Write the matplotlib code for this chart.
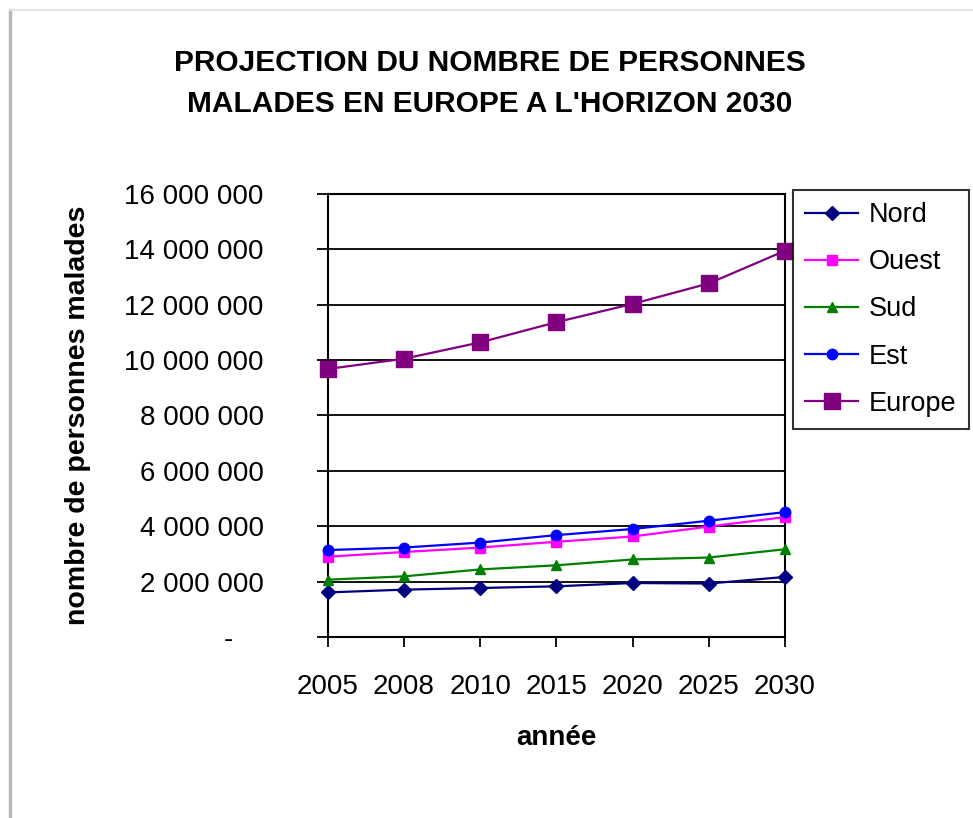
import matplotlib
matplotlib.use("Agg")
import matplotlib.pyplot as plt
from matplotlib.lines import Line2D
from matplotlib.ticker import FuncFormatter

plt.rcParams['font.family'] = ['Liberation Sans', 'DejaVu Sans']

years = ["2005", "2008", "2010", "2015", "2020", "2025", "2030"]
nord = [1610000, 1710000, 1770000, 1830000, 1950000, 1930000, 2170000]
ouest = [2900000, 3070000, 3230000, 3440000, 3630000, 3990000, 4330000]
sud = [2070000, 2190000, 2440000, 2590000, 2800000, 2870000, 3170000]
est = [3140000, 3230000, 3410000, 3680000, 3900000, 4200000, 4510000]
europe = [9680000, 10050000, 10640000, 11370000, 12030000, 12770000, 13950000]
y_ticks = [0, 2000000, 4000000, 6000000, 8000000, 10000000, 12000000, 14000000, 16000000]

W, H = 973, 818
fig = plt.figure(figsize=(W / 100, H / 100), dpi=100)
fig.patch.set_facecolor('white')

# panel border (left shadow and top edge)
fig.add_artist(Line2D([10 / W, 10 / W], [0, 1 - 10 / H], transform=fig.transFigure,
                      color='#b8b8b8', lw=2.5))
fig.add_artist(Line2D([10 / W, 1], [1 - 10 / H, 1 - 10 / H], transform=fig.transFigure,
                      color='#e2e2e2', lw=1.5))

ax_l, ax_r, ax_t, ax_b = 327.7, 785, 194, 637
ax = fig.add_axes([ax_l / W, 1 - ax_b / H, (ax_r - ax_l) / W, (ax_b - ax_t) / H])

x = list(range(len(years)))
series = [
    ("Nord", nord, '#000080', 'D', 7),
    ("Ouest", ouest, '#ff00ff', 's', 7),
    ("Sud", sud, '#008000', '^', 7.5),
    ("Est", est, '#0000ff', 'o', 7.5),
    ("Europe", europe, '#800080', 's', 11.5),
]
for name, vals, col, mk, ms in series:
    ax.plot(x, vals, color=col, marker=mk, markersize=ms, lw=1.6,
            markeredgecolor=col, label=name, zorder=3, clip_on=False)

ax.set_xlim(0, len(years) - 1)
ax.set_ylim(0, 16000000)
ax.set_xticks(x)
ax.set_xticklabels(years)
ax.set_yticks(y_ticks)


def fmt(v, pos):
    if v == 0:
        return "-    "
    return "{:,.0f}".format(v).replace(",", " ")


ax.yaxis.set_major_formatter(FuncFormatter(fmt))
ax.grid(axis='y', color='black', lw=1.3)
ax.set_axisbelow(True)
for s in ax.spines.values():
    s.set_color('black')
    s.set_linewidth(1.5)

ax.tick_params(axis='y', direction='out', length=8, width=1.3, pad=38, labelsize=20)
ax.tick_params(axis='x', direction='out', length=7, width=1.3, pad=20, labelsize=20)

ax.set_xlabel("année", fontsize=20, fontweight='bold')
ax.xaxis.set_label_coords(0.5, -0.228)
ax.xaxis.label.set_va('center')
ax.set_ylabel("nombre de personnes malades", fontsize=20.5, fontweight='bold')
ax.yaxis.set_label_coords(-0.546, 0.5)
ax.yaxis.label.set_va('center')

fig.text(490 / W, 1 - 83.5 / H, "PROJECTION DU NOMBRE DE PERSONNES\nMALADES EN EUROPE A L'HORIZON 2030",
         ha='center', va='center', fontsize=21.5, fontweight='bold', linespacing=1.55)

leg = ax.legend(loc='upper left', bbox_to_anchor=(793 / W, 1 - 190 / H),
                bbox_transform=fig.transFigure, fontsize=19.5, frameon=True,
                fancybox=False, shadow=False, borderpad=0.45, labelspacing=0.78,
                handlelength=1.95, handletextpad=0.4, borderaxespad=0)
leg.get_frame().set_edgecolor('black')
leg.get_frame().set_linewidth(1.5)

fig.savefig("out.png", dpi=100)
